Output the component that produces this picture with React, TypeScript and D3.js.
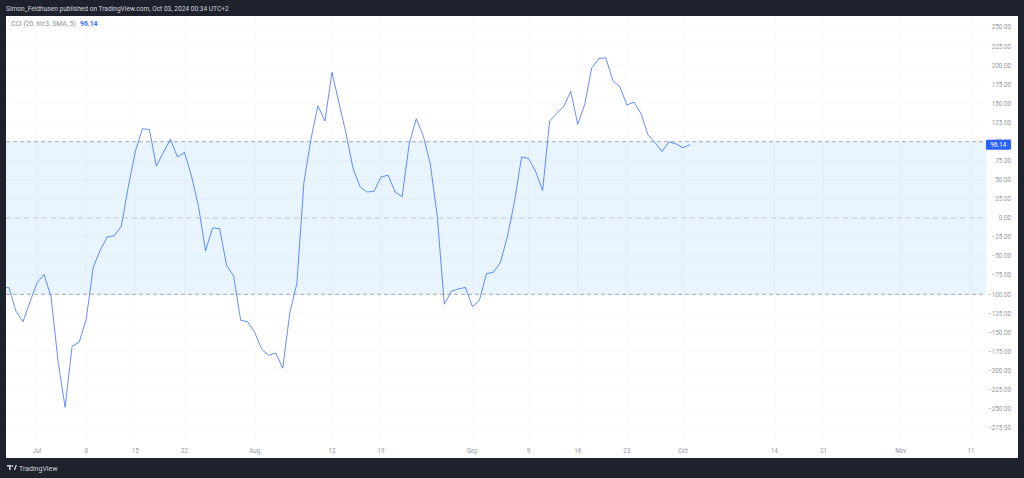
import React from "react";
import * as d3 from "d3";

// ---- data ----
const startDate = "2024-06-26";
const cciValues: number[] = [
  -92, -91, -122, -136, -110, // Jun 26 - Jun 30
  -85, -74, -103, -188, -248, -168, -163, -133, -65, -42, -25, -23, -11, 41, 87, 117, 116, 68, 86, 103, 80, 86, 55, 15, -43, -13, -14, -62, -76, -134, -136, // Jul
  -150, -172, -180, -177, -197, -124, -86, 46, 103, 147, 127, 191, 151, 111, 65, 41, 34, 35, 54, 56, 34, 28, 97, 130, 108, 71, 2, -113, -96, -93, -91, // Aug
  -116, -108, -73, -71, -58, -24, 22, 80, 78, 61, 36, 127, 137, 146, 166, 123, 149, 197, 209, 210, 180, 172, 148, 152, 137, 109, 99, 87, 100, 97, // Sep
  92, 96.14, // Oct
];
const timeTickDates = ["2024-07-01", "2024-07-08", "2024-07-15", "2024-07-22", "2024-08-01", "2024-08-12", "2024-08-19", "2024-09-01", "2024-09-09", "2024-09-16", "2024-09-23", "2024-10-01", "2024-10-14", "2024-10-21", "2024-11-01", "2024-11-11"];
const timeTickLabels = ["Jul", "8", "15", "22", "Aug", "12", "19", "Sep", "9", "16", "23", "Oct", "14", "21", "Nov", "11"];
const priceTicks = [250, 225, 200, 175, 150, 125, 100, 75, 50, 25, 0, -25, -50, -75, -100, -125, -150, -175, -200, -225, -250, -275];
const bandLevels = { upper: 100, middle: 0, lower: -100 };
const lastValueLabel = "96.14";
const headerText = "Simon_Feldhusen published on TradingView.com, Oct 03, 2024 00:34 UTC+2";
const legendText = "CCI (20, hlc3, SMA, 5)";

const W = 1024, H = 478;
const panel = { x0: 6, x1: 1018, y0: 16, y1: 458 };
const plot = { x0: 6, x1: 986, y0: 16, y1: 442 };
const FONT = "Roboto, 'Noto Sans', sans-serif";

const parse = (s: string) => new Date(s + "T00:00:00Z");

export default function App() {
  const start = parse(startDate);
  const data = cciValues.map((v, i) => ({ date: d3.utcDay.offset(start, i), v }));

  const x = d3.scaleUtc().domain([parse("2024-07-01"), parse("2024-11-11")]).range([37, 971]);
  const y = d3.scaleLinear().domain([-100, 100]).range([294.3, 141.7]);

  const line = d3.line<{ date: Date; v: number }>().x((d) => x(d.date)).y((d) => y(d.v));
  const fmt = (v: number) => (v < 0 ? "\u2212" : "") + Math.abs(v).toFixed(2);
  const lastY = y(cciValues[cciValues.length - 1]);

  return (
    <svg width={W} height={H} style={{ position: "absolute", left: 0, top: 0, display: "block" }} fontFamily={FONT}>
      <defs>
        <clipPath id="plotClip">
          <rect x={plot.x0} y={plot.y0} width={plot.x1 - plot.x0} height={plot.y1 - plot.y0} />
        </clipPath>
      </defs>
      <rect x={0} y={0} width={W} height={H} fill="#1e222d" />
      <rect x={panel.x0} y={panel.y0} width={panel.x1 - panel.x0} height={panel.y1 - panel.y0} fill="#ffffff" />
      <text x={6} y={10.5} fontSize={6.6} fill="#d1d4dc">{headerText}</text>

      <g clipPath="url(#plotClip)">
        {/* very faint grid */}
        {timeTickDates.map((d, i) => (
          <line key={"gx" + i} x1={x(parse(d))} x2={x(parse(d))} y1={plot.y0} y2={plot.y1} stroke="#f9fafc" strokeWidth={1} />
        ))}
        {priceTicks.map((p) => (
          <line key={"gy" + p} x1={plot.x0} x2={plot.x1} y1={y(p)} y2={y(p)} stroke="#f9fafc" strokeWidth={1} />
        ))}
        <rect x={plot.x0} y={y(bandLevels.upper)} width={plot.x1 - plot.x0} height={y(bandLevels.lower) - y(bandLevels.upper)} fill="rgba(33,150,243,0.1)" />
        <line x1={plot.x0} x2={plot.x1} y1={y(bandLevels.upper)} y2={y(bandLevels.upper)} stroke="#a9acb5" strokeDasharray="4 3" />
        <line x1={plot.x0} x2={plot.x1} y1={y(bandLevels.middle)} y2={y(bandLevels.middle)} stroke="#c6c8cf" strokeDasharray="5 4" />
        <line x1={plot.x0} x2={plot.x1} y1={y(bandLevels.lower)} y2={y(bandLevels.lower)} stroke="#a9acb5" strokeDasharray="4 3" />
        <path d={line(data) || ""} fill="none" stroke="#2962ff" strokeWidth={0.9} strokeOpacity={0.8} strokeLinejoin="round" />
      </g>

      {/* legend */}
      <text x={11} y={26} fontSize={6.8} fill="#8c8f99">{legendText}</text>
      <text x={80} y={26} fontSize={6.8} fill="#2962ff" fontWeight={600}>{lastValueLabel}</text>

      {/* price axis */}
      {priceTicks.map((p) => (
        <text key={"pt" + p} x={1011} y={y(p)} dy="0.35em" fontSize={6.3} fill="#9598a1" textAnchor="end">{fmt(p)}</text>
      ))}
      <rect x={986} y={lastY - 5} width={25} height={10} fill="#2962ff" rx={1} />
      <text x={998.5} y={lastY} dy="0.35em" fontSize={6.3} fill="#ffffff" textAnchor="middle">{lastValueLabel}</text>

      {/* time axis */}
      {timeTickDates.map((d, i) => (
        <text key={"tt" + i} x={x(parse(d))} y={451} dy="0.35em" fontSize={6.3} fill="#9598a1" textAnchor="middle">{timeTickLabels[i]}</text>
      ))}

      {/* footer logo */}
      <g fill="#d1d4dc">
        <rect x={7} y={465} width={4} height={1.6} />
        <rect x={9} y={465} width={1.6} height={5} />
        <circle cx={12.3} cy={466} r={0.9} />
        <path d="M13.8 470 L15.6 465 L17 465 L15.2 470 Z" />
        <text x={19} y={470.5} fontSize={7} fill="#d1d4dc">TradingView</text>
      </g>
    </svg>
  );
}
